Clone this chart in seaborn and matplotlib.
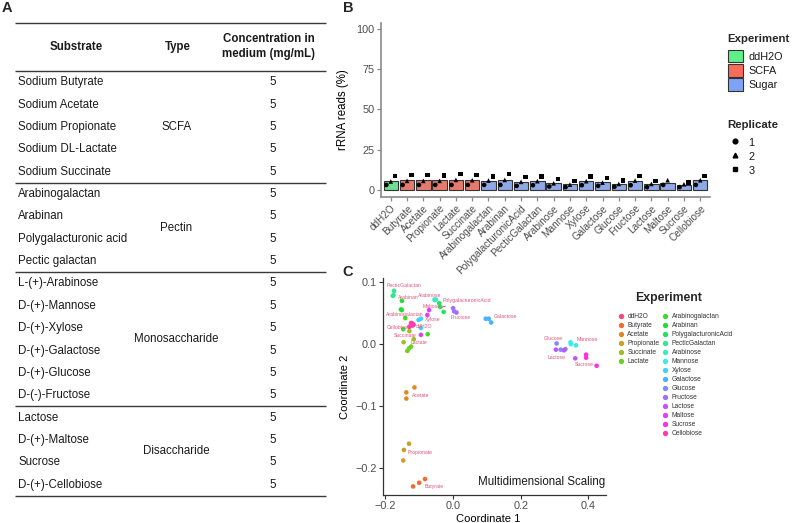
import numpy as np
import pandas as pd
import matplotlib
matplotlib.use("Agg")
import matplotlib.pyplot as plt
import seaborn as sns
from matplotlib.patches import Patch
from matplotlib.lines import Line2D

# ---------------- Panel A: table ----------------
table_headers = ["Substrate", "Type", "Concentration in\nmedium (mg/mL)"]
substrates = ["Sodium Butyrate", "Sodium Acetate", "Sodium Propionate", "Sodium DL-Lactate",
              "Sodium Succinate", "Arabinogalactan", "Arabinan", "Polygalacturonic acid",
              "Pectic galactan", "L-(+)-Arabinose", "D-(+)-Mannose", "D-(+)-Xylose",
              "D-(+)-Galactose", "D-(+)-Glucose", "D-(-)-Fructose", "Lactose",
              "D-(+)-Maltose", "Sucrose", "D-(+)-Cellobiose"]
substrate_types = ["SCFA", "Pectin", "Monosaccharide", "Disaccharide"]
type_sizes = [5, 4, 6, 4]
concentrations = [5] * 19

# ---------------- Panel B: rRNA reads ----------------
samples = ["ddH2O", "Butyrate", "Acetate", "Propionate", "Lactate", "Succinate",
           "Arabinogalactan", "Arabinan", "PolygalacturonicAcid", "PecticGalactan",
           "Arabinose", "Mannose", "Xylose", "Galactose", "Glucose", "Fructose",
           "Lactose", "Maltose", "Sucrose", "Cellobiose"]
sample_group = ["ddH2O"] + ["SCFA"] * 5 + ["Sugar"] * 14
rep1 = [3.1, 3.1, 3.1, 3.1, 3.1, 3.1, 3.1, 3.1, 2.5, 2.9, 2.1, 1.7, 2.9, 2.5, 1.9, 2.9, 1.7, 3.1, 1.7, 3.1]
rep2 = [5.2, 5.6, 5.6, 5.6, 6.2, 6.0, 5.8, 6.2, 5.0, 5.4, 4.1, 3.3, 5.4, 4.5, 3.7, 5.8, 3.7, 6.0, 3.5, 6.0]
rep3 = [8.7, 9.3, 9.3, 8.9, 9.9, 9.3, 8.5, 9.9, 7.9, 8.5, 6.8, 5.4, 8.3, 7.4, 6.0, 8.7, 5.4, np.nan, 4.5, 8.7]

# ---------------- Panel C: MDS ----------------
mds_experiments = ["ddH2O", "Butyrate", "Acetate", "Propionate", "Succinate", "Lactate",
                   "Arabinogalactan", "Arabinan", "PolygalacturonicAcid", "PecticGalactan",
                   "Arabinose", "Mannose", "Xylose", "Galactose", "Glucose", "Fructose",
                   "Lactose", "Maltose", "Sucrose", "Cellobiose"]
coord1 = [[-0.123, -0.117, -0.116], [-0.117, -0.099, -0.082], [-0.113, -0.137, -0.137],
          [-0.129, -0.144, -0.146], [-0.128, -0.145, -0.115], [-0.123, -0.129, -0.134],
          [-0.140, -0.146, -0.074], [-0.150, -0.153, -0.150], [-0.040, -0.037, -0.027],
          [-0.173, -0.177, -0.175], [-0.054, -0.050, -0.052], [0.347, 0.348, 0.363],
          [-0.101, -0.094, -0.094], [0.097, 0.106, 0.113], [0.306, 0.318, 0.332],
          [0.001, 0.004, 0.011], [0.304, 0.328, 0.361], [-0.070, -0.075, -0.094],
          [0.393, 0.393, 0.424], [-0.128, -0.121, -0.119]]
coord2 = [[0.034, 0.032, 0.031], [-0.230, -0.224, -0.218], [-0.070, -0.078, -0.088],
          [-0.161, -0.171, -0.188], [0.021, 0.003, 0.008], [-0.004, -0.007, -0.011],
          [0.042, 0.024, 0.016], [0.070, 0.056, 0.055], [0.066, 0.060, 0.052],
          [0.086, 0.078, 0.079], [0.072, 0.072, 0.071], [0.003, 0.000, -0.002],
          [0.039, 0.041, 0.026], [0.041, 0.041, 0.035], [0.001, -0.009, -0.008],
          [0.058, 0.053, 0.051], [-0.009, -0.010, -0.023], [0.055, 0.047, 0.015],
          [-0.017, -0.022, -0.035], [0.028, 0.034, 0.030]]

# ---------------- styles ----------------
group_colors = {"ddH2O": "#5EF18B", "SCFA": "#F96B5B", "Sugar": "#7FA3F4"}
mds_colors = ["#F8467E", "#F26A30", "#E08A20", "#C8A028", "#A0BE20", "#6CD020",
              "#3CDC28", "#22E030", "#22E45C", "#2EE890", "#38ECC0", "#38ECEC",
              "#3CD2FF", "#4CB0FF", "#7C8CFF", "#A070FF", "#C055FF", "#E040F8",
              "#FF30E0", "#FF3CB0"]
label_offsets = {"PecticGalactan": (11, 8), "Arabinan": (7, 9.5), "Arabinose": (-5, 4.5),
                 "PolygalacturonicAcid": (26, 7), "Maltose": (6, 13), "Fructose": (6, -6.7),
                 "Galactose": (17, 3), "Arabinogalactan": (-7, 13), "Xylose": (12.7, 2.4),
                 "Cellobiose": (-12, -2.4), "ddH2O": (11, -2.4), "Succinate": (-4, 2.5),
                 "Lactate": (10, 6), "Acetate": (12, -3), "Propionate": (15, -1.5),
                 "Butyrate": (15, -3.5), "Glucose": (-8, 9), "Lactose": (-8, -5),
                 "Mannose": (15, 4), "Sucrose": (-5, -5.5)}

sns.set_style("ticks")
plt.rcParams["font.family"] = ["Liberation Sans", "DejaVu Sans"]
plt.rcParams["axes.unicode_minus"] = True

W, H = 792, 523
fig = plt.figure(figsize=(W / 100, H / 100), dpi=100)


def frac(l, t, r, b):
    return [l / W, 1 - b / H, (r - l) / W, (b - t) / H]


txt_dark = "#1A1A1A"
grey30 = "#4D4D4D"

# ---------------- Panel A ----------------
axt = fig.add_axes([0, 0, 1, 1])
axt.set_xlim(0, W)
axt.set_ylim(H, 0)
axt.axis("off")
fs_t = 8.3
x_l, x_r = 15, 326
row0, pitch = 82.3, 22.35


def row_y(i):
    return row0 + pitch * i


line_kw = dict(color="#3A3A3A", lw=1.0, solid_capstyle="butt")
axt.plot([x_l, x_r], [22.7, 22.7], **line_kw)
axt.plot([x_l, x_r], [71, 71], **line_kw)
axt.text(76, 46.7, table_headers[0], ha="center", va="center", fontsize=fs_t, weight="bold", color=txt_dark)
axt.text(177.7, 46.7, table_headers[1], ha="center", va="center", fontsize=fs_t, weight="bold", color=txt_dark)
axt.text(269, 46.5, table_headers[2], ha="center", va="center", fontsize=fs_t, weight="bold",
         color=txt_dark, linespacing=1.3)
for i, (s, c) in enumerate(zip(substrates, concentrations)):
    axt.text(18.3, row_y(i), s, ha="left", va="center", fontsize=fs_t, color=txt_dark)
    axt.text(272.3, row_y(i), str(c), ha="center", va="center", fontsize=fs_t, color=txt_dark)
start = 0
for t, n in zip(substrate_types, type_sizes):
    yc = np.mean([row_y(i) for i in range(start, start + n)])
    axt.text(176.5, yc, t, ha="center", va="center", fontsize=fs_t, color=txt_dark)
    start += n
    axt.plot([x_l, x_r], [row_y(start) - pitch / 2] * 2, **line_kw)

# ---------------- Panel B ----------------
axb = fig.add_axes(frac(381, 23, 710, 197))
recs = []
for i, (s, g) in enumerate(zip(samples, sample_group)):
    for r, vals in zip(["1", "2", "3"], [rep1, rep2, rep3]):
        recs.append(dict(pos=i, Sample=s, Group=g, Replicate=r, Reads=vals[i]))
dfb = pd.DataFrame(recs)
sns.barplot(data=dfb, x="pos", y="Reads", hue="Group", hue_order=["ddH2O", "SCFA", "Sugar"],
            palette=group_colors, dodge=False, native_scale=True, errorbar=None, width=0.88,
            edgecolor="#333333", linewidth=0.8, legend=False, ax=axb)
rep_offset = {"1": -0.27, "2": 0.0, "3": 0.27}
dfb["xp"] = dfb["pos"] + dfb["Replicate"].map(rep_offset)
sns.scatterplot(data=dfb.dropna(), x="xp", y="Reads", style="Replicate",
                markers={"1": "o", "2": "^", "3": "s"}, color="black", s=11, linewidth=0,
                legend=False, ax=axb, zorder=5)
axb.set_xlim(-0.6, len(samples) - 0.4)
axb.set_ylim(-4.4, 103.5)
axb.set_yticks([0, 25, 50, 75, 100])
axb.set_yticklabels(["0", "25", "50", "75", "100"])
axb.set_xticks(range(len(samples)))
axb.set_xticklabels(samples, rotation=45, ha="right", va="top", rotation_mode="anchor")
axb.set_xlabel("")
axb.set_ylabel("rRNA reads (%)", fontsize=8.3, color="black")
axb.yaxis.set_label_coords(-0.098, 0.5)
sns.despine(ax=axb)
for sp in ["left", "bottom"]:
    axb.spines[sp].set_color("#8A8A8A")
    axb.spines[sp].set_linewidth(1.2)
axb.tick_params(axis="y", labelsize=7.8, colors="#8A8A8A", labelcolor=grey30, length=3, width=0.9, pad=1.5)
axb.tick_params(axis="x", labelsize=7.2, colors="#8A8A8A", labelcolor=grey30, length=3, width=0.9, pad=1.5)
axb.set_facecolor("none")

# legend B
fig.text(727.7 / W, 1 - 39 / H, "Experiment", ha="left", va="center", fontsize=8.2, weight="bold")
fig.text(727.7 / W, 1 - 125 / H, "Replicate", ha="left", va="center", fontsize=8.2, weight="bold")
fs_l = 7.8
fs_px = fs_l * 100 / 72
hl = 15 / fs_px
exp_handles = [Patch(facecolor=group_colors[g], edgecolor="#333333", linewidth=0.8) for g in group_colors]
leg1 = fig.legend(exp_handles, list(group_colors), loc="upper left",
                  bbox_to_anchor=(727.7 / W, 1 - 50 / H), frameon=False, fontsize=fs_l,
                  handlelength=hl, handleheight=hl, handletextpad=0.5, labelspacing=0.16,
                  borderpad=0, borderaxespad=0)
rep_handles = [Line2D([], [], marker=m, color="black", linestyle="none", markersize=3.4)
               for m in ["o", "^", "s"]]
leg2 = fig.legend(rep_handles, ["1", "2", "3"], loc="upper left",
                  bbox_to_anchor=(727.7 / W, 1 - 135.8 / H), frameon=False, fontsize=fs_l,
                  handlelength=hl, handleheight=hl, handletextpad=0.5, labelspacing=0.16,
                  borderpad=0, borderaxespad=0)
for t in leg1.get_texts() + leg2.get_texts():
    t.set_color(txt_dark)

# ---------------- Panel C ----------------
axc = fig.add_axes(frac(383, 278, 606, 495))
recs = []
for e, xs, ys in zip(mds_experiments, coord1, coord2):
    for xv, yv in zip(xs, ys):
        recs.append(dict(Experiment=e, c1=xv, c2=yv))
dfc = pd.DataFrame(recs)
pal = dict(zip(mds_experiments, mds_colors))
sns.scatterplot(data=dfc, x="c1", y="c2", hue="Experiment", hue_order=mds_experiments,
                palette=pal, s=11, linewidth=0, legend=False, ax=axc)
lab_col = "#E0557A"
cent = dfc.groupby("Experiment")[["c1", "c2"]].mean()
for e in mds_experiments:
    dx, dy = label_offsets[e]
    kw = {}
    if e == "PolygalacturonicAcid":
        kw["arrowprops"] = dict(arrowstyle="-", lw=0.5, color="#B03040", shrinkA=0, shrinkB=1)
    axc.annotate(e, xy=(cent.loc[e, "c1"], cent.loc[e, "c2"]), xytext=(dx, dy),
                 textcoords="offset pixels", ha="center", va="center", fontsize=3.7,
                 color=lab_col, **kw)
axc.set_xlim(-0.2057, 0.4516)
axc.set_ylim(-0.2438, 0.1068)
axc.set_xticks([-0.2, 0.0, 0.2, 0.4])
axc.set_xticklabels(["\u22120.2", "0.0", "0.2", "0.4"])
axc.set_yticks([-0.2, -0.1, 0.0, 0.1])
axc.set_yticklabels(["\u22120.2", "\u22120.1", "0.0", "0.1"])
axc.set_xlabel("Coordinate 1", fontsize=8.0, color="black")
axc.set_ylabel("Coordinate 2", fontsize=8.0, color="black")
axc.xaxis.set_label_coords(0.47, -0.088)
axc.yaxis.set_label_coords(-0.15, 0.5)
sns.despine(ax=axc)
for sp in ["left", "bottom"]:
    axc.spines[sp].set_color("#333333")
    axc.spines[sp].set_linewidth(0.9)
axc.tick_params(labelsize=7.8, colors="#333333", labelcolor=grey30, length=3, width=0.8, pad=1.5)
axc.text(0.995, 0.0585, "Multidimensional Scaling", transform=axc.transAxes, ha="right",
         va="center", fontsize=8.3, color=txt_dark)
axc.set_facecolor("none")

# legend C
fig.text(635 / W, 1 - 298.3 / H, "Experiment", ha="left", va="center", fontsize=8.8, weight="bold")
fs_c = 4.8
c_handles = [Line2D([], [], marker="o", color=c, linestyle="none", markersize=2.8) for c in mds_colors]
legc1 = fig.legend(c_handles[:6], mds_experiments[:6], loc="upper left",
                   bbox_to_anchor=(617.4 / W, 1 - 313.4 / H), frameon=False, fontsize=fs_c,
                   handlelength=1.0, handletextpad=0.5, labelspacing=0.3, borderpad=0,
                   borderaxespad=0)
legc2 = fig.legend(c_handles[6:], mds_experiments[6:], loc="upper left",
                   bbox_to_anchor=(661.7 / W, 1 - 313.4 / H), frameon=False, fontsize=fs_c,
                   handlelength=1.0, handletextpad=0.5, labelspacing=0.3, borderpad=0,
                   borderaxespad=0)
for t in legc1.get_texts() + legc2.get_texts():
    t.set_color("#333333")

# panel letters
for letter, (px, py) in zip("ABC", [(6.7, 8.3), (348, 8.3), (348, 272)]):
    fig.text(px / W, 1 - py / H, letter, ha="center", va="center", fontsize=10.5, weight="bold")

fig.savefig("out.png", dpi=100)
